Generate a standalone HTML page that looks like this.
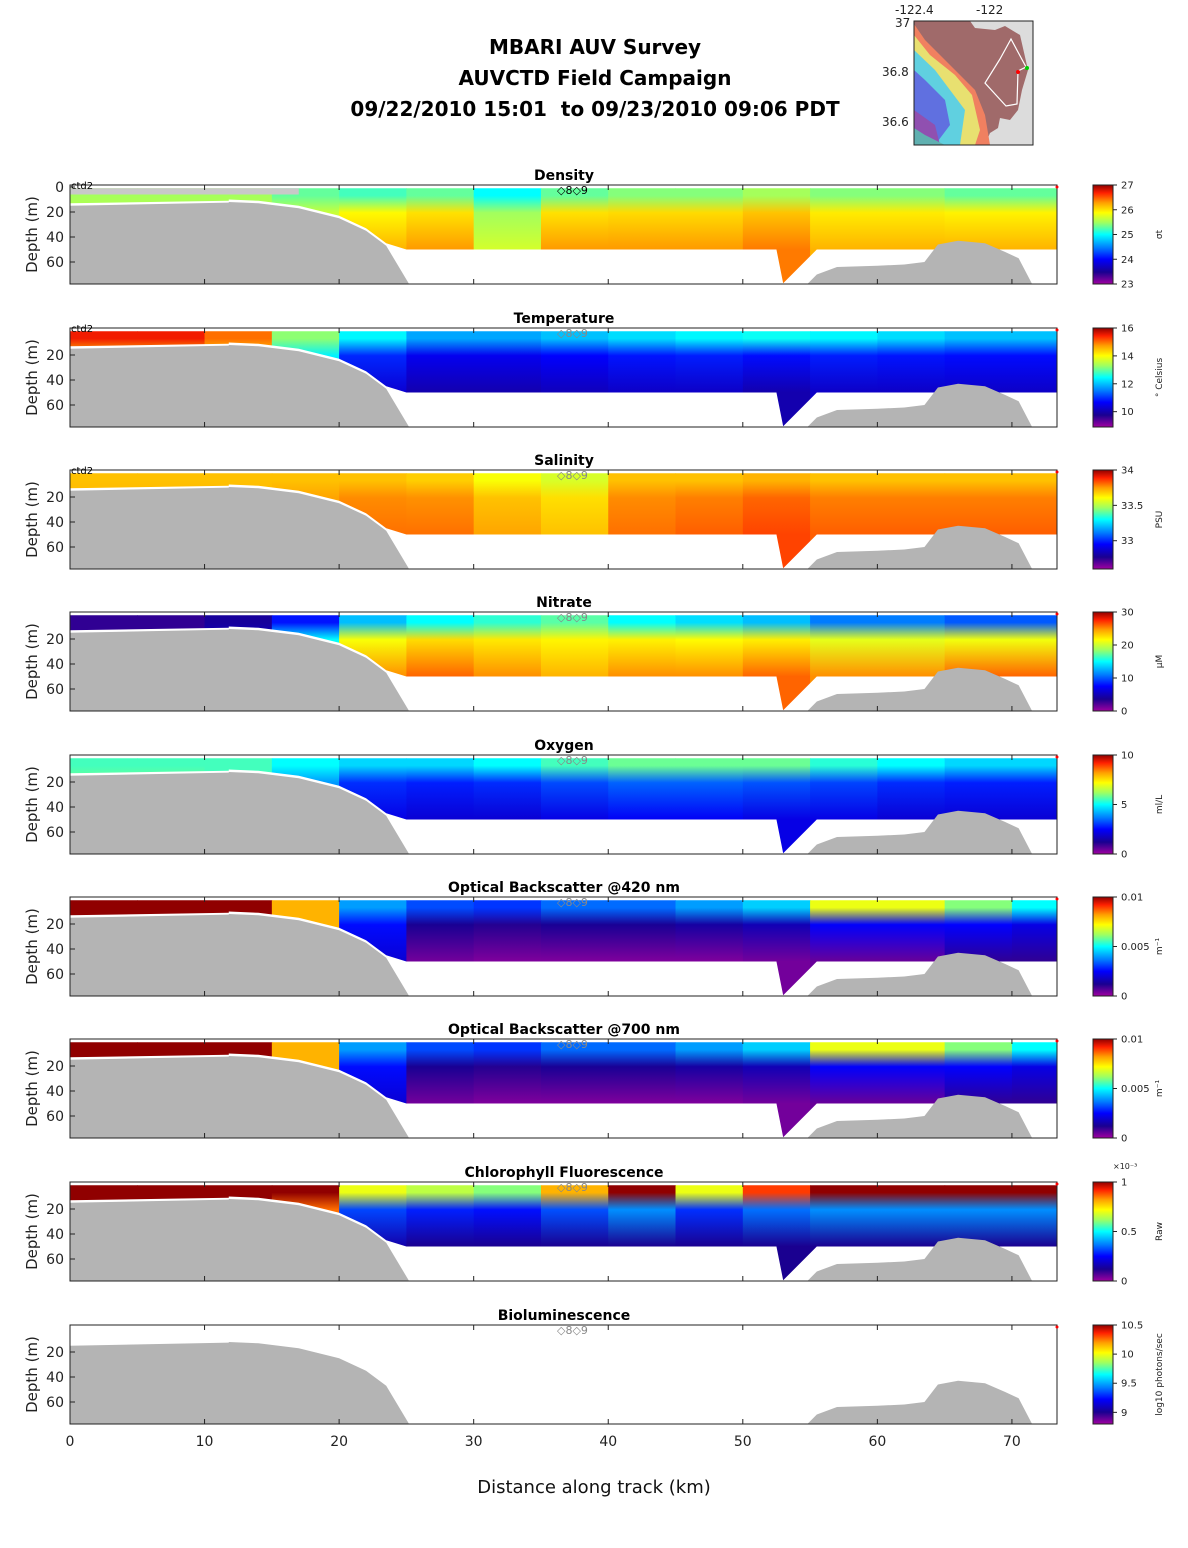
<!DOCTYPE html>
<html><head><meta charset="utf-8">
<style>
html,body{margin:0;padding:0;background:#fff;}
svg{display:block;font-family:"DejaVu Sans","Liberation Sans",sans-serif;}
</style></head>
<body>
<svg id="fig" width="1188" height="1548" viewBox="0 0 1188 1548" xmlns="http://www.w3.org/2000/svg">
<defs id="defs"></defs>
<g font-weight="bold" font-size="20" text-anchor="middle" fill="#000">
<text x="595" y="54">MBARI AUV Survey</text>
<text x="595" y="85">AUVCTD Field Campaign</text>
<text x="595" y="116" xml:space="preserve">09/22/2010 15:01  to 09/23/2010 09:06 PDT</text>
</g>
<g>
<rect x="914" y="21" width="119" height="124" fill="#dcdcdc"/>
<path d="M914 21 L970 21 L975 28 L995 30 L1005 26 L1020 35 L1028 70 L1022 90 L1018 110 L1010 120 L1000 118 L998 128 L990 133 L985 145 L914 145 Z" fill="#a06a6a"/>
<path d="M914 24 L925 40 L940 55 L960 75 L975 90 L985 115 L990 145 L914 145 Z" fill="#f08060"/>
<path d="M914 35 L930 55 L955 75 L972 95 L980 130 L975 145 L914 145 Z" fill="#e8e070"/>
<path d="M914 50 L935 70 L950 90 L965 110 L960 145 L914 145 Z" fill="#60d0e0"/>
<path d="M914 70 L925 80 L945 100 L950 125 L935 145 L914 145 Z" fill="#6070e0"/>
<path d="M914 110 L935 125 L940 145 L914 145 Z" fill="#9050b0"/>
<path d="M914 128 L925 135 L945 145 L914 145 Z" fill="#60b0b0"/>
<polyline points="1000,59 1011,39 1026,67 1018,71 1017,104 1006,106 985,83 1000,59" fill="none" stroke="#fff" stroke-width="1.2"/>
<circle cx="1027" cy="68" r="2" fill="#0c0"/><circle cx="1018" cy="72" r="2" fill="#f00"/>
<rect x="914" y="21" width="119" height="124" fill="none" stroke="#222"/>
<g font-size="12" fill="#222"><text x="895" y="14">-122.4</text><text x="976" y="14">-122</text>
<text x="895" y="27">37</text><text x="882" y="76">36.8</text><text x="882" y="126">36.6</text></g>
</g>
<g id="panels"></g>
<g font-size="14" fill="#222" text-anchor="middle" id="xaxis"></g>
<text x="594" y="1493" font-size="18" text-anchor="middle" fill="#111">Distance along track (km)</text>
</svg>
<script>
// ---- data ----
const segKm = [0,5,10,15,20,25,30,35,40,45,50,55,60,65,70];
const xTicks = [0,10,20,30,40,50,60,70];
const depthTicks = [20,40,60];
const bathyLeftKm = [0,11.8,11.8,14,17,20,22,23.5,25.2];
const bathyLeftDepth = [15,12.5,12,13,17,25,35,47,78];
const bathyRightKm = [54.8,55.5,57,60,62,63.5,64.5,66,68,69.5,70.5,71.5];
const bathyRightDepth = [78,70,64,63,62,60,46,43,45,52,57,78];
const dataBotKm = [0,11.8,11.8,14,17,20,22,23.5,25,52.5,53,55.5,73.4];
const dataBotDepth = [13,11,10,11,15,23,33,45,50,50,77,50,50];

const names = ["Density","Temperature","Salinity","Nitrate","Oxygen","Optical Backscatter @420 nm","Optical Backscatter @700 nm","Chlorophyll Fluorescence","Bioluminescence"];
const units = ["σt","° Celsius","PSU","μM","ml/L","m⁻¹","m⁻¹","Raw","log10 photons/sec"];
const vmin = [23,8.9,32.6,0,0,0,0,0,8.8];
const vmax = [27,16,34,30,10,0.01,0.01,1,10.5];
const cbTicks = [[27,26,25,24,23],[16,14,12,10],[34,33.5,33],[30,20,10,0],[10,5,0],[0.01,0.005,0],[0.01,0.005,0],[1,0.5,0],[10.5,10,9.5,9]];
const surf = [
 [25.5,25.5,25.5,25.3,25.2,25.3,25.0,25.3,25.4,25.4,25.5,25.4,25.4,25.3,25.3],
 [15.5,15.5,15,13.2,12.4,11.8,11.8,12,12.2,12.4,12.5,12.4,12.2,12,12],
 [33.7,33.7,33.7,33.7,33.7,33.68,33.6,33.55,33.7,33.7,33.72,33.7,33.7,33.7,33.7],
 [3,3,4,8,13,15,16,17,15,14,13,11,11,10,10],
 [5.5,5.5,5.5,5,4.6,4.6,5,5.5,5.8,5.8,5.8,5.3,5,4.6,4.6],
 [0.01,0.01,0.01,0.008,0.004,0.0032,0.003,0.0035,0.0035,0.004,0.0045,0.007,0.007,0.006,0.005],
 [0.01,0.01,0.01,0.008,0.004,0.0032,0.003,0.0035,0.0035,0.004,0.0045,0.007,0.007,0.006,0.005],
 [1,1,1,1,0.7,0.65,0.6,0.8,1,0.7,0.9,1,1,1,1],
 null
];
const deep = [
 [25.6,25.6,25.6,25.8,26.2,26.3,25.7,26.3,26.3,26.3,26.4,26.2,26.2,26.2,26.2],
 [14,14,14,12,10.3,10,10,10.1,10.2,10.2,10,10.2,10.2,10.2,10.2],
 [33.72,33.72,33.72,33.76,33.8,33.8,33.74,33.7,33.8,33.82,33.85,33.82,33.82,33.82,33.82],
 [3,3,6,18,25,26,25,24,25,25,26,25,25,26,26],
 [6,6,5.5,3.5,2.2,2,2,2.2,2.4,2.4,2.2,2.2,2,2,2],
 [0.01,0.01,0.01,0.008,0.002,0.0004,0.0003,0.0003,0.0003,0.0003,0.0004,0.0005,0.0005,0.001,0.001],
 [0.01,0.01,0.01,0.008,0.002,0.0004,0.0003,0.0003,0.0003,0.0003,0.0004,0.0005,0.0005,0.001,0.001],
 [1,1,1,0.8,0.15,0.12,0.12,0.12,0.12,0.12,0.12,0.12,0.12,0.12,0.12],
 null
];
// ---- layout ----
const NS="http://www.w3.org/2000/svg";
const X0=70, X1=1057, KMAX=73.35;
const tops=[185,328,470,612,755,897,1039,1182,1325];
const PH=99;
const xs = km => X0 + km*(X1-X0)/KMAX;
const ys = (top,d) => top + 2 + d*1.25;
const stops=[[0,"#a000a0"],[0.12,"#1a0090"],[0.25,"#0000ff"],[0.37,"#0080ff"],[0.5,"#00ffff"],[0.62,"#a0ff60"],[0.72,"#ffff00"],[0.82,"#ffa000"],[0.92,"#ff2000"],[1,"#900000"]];
function hex(c){return [1,3,5].map(i=>parseInt(c.substr(i,2),16));}
function cmap(t){t=Math.max(0,Math.min(1,t));for(let i=1;i<stops.length;i++){if(t<=stops[i][0]){const a=stops[i-1],b=stops[i];const f=(t-a[0])/(b[0]-a[0]);const A=hex(a[1]),B=hex(b[1]);return "rgb("+A.map((v,k)=>Math.round(v+(B[k]-v)*f)).join(",")+")";}}return stops[stops.length-1][1];}
function el(tag,attrs,parent){const e=document.createElementNS(NS,tag);for(const k in attrs)e.setAttribute(k,attrs[k]);if(parent)parent.appendChild(e);return e;}
const defs=document.getElementById("defs"), panels=document.getElementById("panels");
const cbg=el("linearGradient",{id:"cbg",x1:0,y1:1,x2:0,y2:0},defs);
stops.forEach(s=>el("stop",{offset:s[0],"stop-color":s[1]},cbg));
function poly(kmArr,dArr,top){return kmArr.map((k,i)=>xs(k)+","+Math.min(ys(top,dArr[i]),top+PH)).join(" ");}
names.forEach((nm,pi)=>{
  const top=tops[pi];
  const g=el("g",{},panels);
  
  
  if(surf[pi]){
    const cg=el("clipPath",{id:"clip"+pi},defs);
    el("rect",{x:X0,y:top,width:X1-X0,height:PH},cg);
    const field=el("g",{"clip-path":"url(#clip"+pi+")"},g);
    
    
    segKm.forEach((k,i)=>{
      const gid="gr"+pi+"_"+i;
      const lg=el("linearGradient",{id:gid,gradientUnits:"userSpaceOnUse",x1:0,y1:ys(top,1),x2:0,y2:ys(top,50)},defs);
      const r=vmax[pi]-vmin[pi];
      const s=surf[pi][i], d=deep[pi][i];
      el("stop",{offset:0,"stop-color":cmap((s-vmin[pi])/r)},lg);
      el("stop",{offset:0.12,"stop-color":cmap((s-vmin[pi])/r)},lg);
      el("stop",{offset:0.4,"stop-color":cmap((s*0.3+d*0.7-vmin[pi])/r)},lg);
      el("stop",{offset:1,"stop-color":cmap((d-vmin[pi])/r)},lg);
      const k2=i<segKm.length-1?segKm[i+1]:KMAX;
      const c=el("rect",{x:xs(k),y:ys(top,1),width:xs(k2)-xs(k)+0.5,height:ys(top,78)-ys(top,1),fill:"url(#"+gid+")"},field);
      
      
    });
    const wp=poly(dataBotKm,dataBotDepth,top)+" "+xs(KMAX)+","+(top+PH)+" "+X0+","+(top+PH);
    const w=el("polygon",{points:wp,fill:"#fff"},field);
    
    
    if(pi===0){
      el("rect",{x:X0,y:ys(top,1),width:xs(17)-X0,height:ys(top,6)-ys(top,1),fill:"#c8c8c8"},field);
    }
  }
  const b1=el("polygon",{points:poly(bathyLeftKm,bathyLeftDepth,top)+" "+X0+","+(top+PH),fill:"#b4b4b4"},g);
  
  
  const b2=el("polygon",{points:poly(bathyRightKm,bathyRightDepth,top),fill:"#b4b4b4"},g);
  
  
  const fr=el("rect",{x:X0,y:top,width:X1-X0,height:PH,fill:"none",stroke:"#222","stroke-width":1},g);
  
  
  xTicks.forEach(t=>{el("line",{x1:xs(t),x2:xs(t),y1:top+PH,y2:top+PH-5,stroke:"#222"},g);el("line",{x1:xs(t),x2:xs(t),y1:top,y2:top+5,stroke:"#222"},g);});
  const yt=pi===0?[0].concat(depthTicks):depthTicks;
  yt.forEach(d=>{
    el("line",{x1:X0,x2:X0+5,y1:ys(top,d),y2:ys(top,d),stroke:"#222"},g);
    const t=el("text",{x:X0-6,y:ys(top,d)+5,"font-size":14,"text-anchor":"end",fill:"#222"},g);t.textContent=d;
    
    
  });
  const yl=el("text",{x:0,y:0,"font-size":15,"text-anchor":"middle",fill:"#222",transform:"translate(37,"+(top+PH/2)+") rotate(-90)"},g);
  yl.textContent="Depth (m)";
  
  
  const tt=el("text",{x:564,y:top-5,"font-size":14,"font-weight":"bold","text-anchor":"middle",fill:"#000"},g);
  tt.textContent=nm;
  
  
  const mk=el("text",{x:557,y:top+9,"font-size":11,fill:pi===0?"#000":"#888"},g);
  mk.textContent="◇8◇9";
  
  
  if(pi<3){const c2=el("text",{x:71,y:top+4,"font-size":10,fill:"#000"},g);c2.textContent="ctd2";
    
    }
  el("circle",{cx:X1,cy:top+2,r:1.5,fill:"#f00"},g);
  const cb=el("g",{},g);
  
  
  el("rect",{x:1093,y:top,width:20,height:PH,fill:"url(#cbg)",stroke:"#222"},cb);
  cbTicks[pi].forEach(v=>{
    const y=top+PH-(v-vmin[pi])/(vmax[pi]-vmin[pi])*PH;
    el("line",{x1:1113,x2:1117,y1:y,y2:y,stroke:"#222"},cb);
    const t=el("text",{x:1121,y:y+3.5,"font-size":10,fill:"#222"},cb);t.textContent=v;
    
    
  });
  const u=el("text",{x:0,y:0,"font-size":9,"text-anchor":"middle",fill:"#222",transform:"translate(1162,"+(top+PH/2)+") rotate(-90)"},cb);
  u.textContent=units[pi];
  
  
  if(pi===7){const e=el("text",{x:1113,y:top-13,"font-size":8,fill:"#222"},cb);e.textContent="×10⁻³";}
});
const xa=document.getElementById("xaxis");
xTicks.forEach(t=>{const tx=el("text",{x:xs(t),y:1446},xa);tx.textContent=t;
  
  });
</script>
</body></html>
